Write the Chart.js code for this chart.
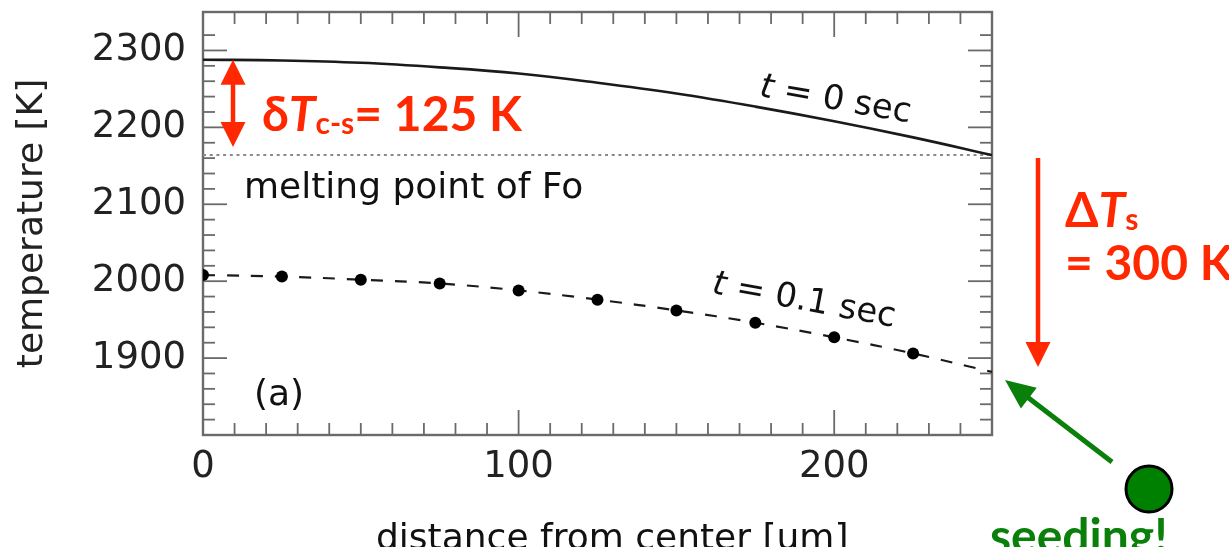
<!DOCTYPE html>
<html>
<head>
<meta charset="utf-8">
<script src="https://cdn.jsdelivr.net/npm/chart.js@4/dist/chart.umd.min.js"></script>
<style>
  html, body { margin: 0; padding: 0; background: #fff; }
  #wrap { width: 1229px; height: 547px; }
</style>
</head>
<body>
<div id="wrap"><canvas id="tempChart" width="1229" height="547"></canvas></div>
<script>
// Data
const distance = [0, 25, 50, 75, 100, 125, 150, 175, 200, 225, 250];          // um
const tempT0 = [2288, 2287, 2284, 2278, 2270, 2258, 2244, 2227, 2208, 2187, 2164];  // K, t = 0 sec
const tempT01 = [2008, 2006, 2002, 1997, 1988, 1976, 1962, 1946, 1927, 1906, 1882]; // K, t = 0.1 sec
const meltEnds = [0, 250];
const meltingPoint = [2164, 2164];  // melting point of Fo
const xTickLabels = [0, 100, 200];
const yTickLabels = [1900, 2000, 2100, 2200, 2300];

const RED = '#ff2800';
const GREEN = '#0a800a';
const FONT = '"DejaVu Sans", sans-serif';
const BOLD = 'Lato, "Open Sans", sans-serif';

const toPoints = (xs, ys) => xs.map((v, i) => ({x: v, y: ys[i]}));

function line(ctx, x1, y1, x2, y2) {
  ctx.beginPath();
  ctx.moveTo(x1, y1);
  ctx.lineTo(x2, y2);
  ctx.stroke();
}

function head(ctx, x, y, ang, len, w) {
  const c = Math.cos(ang), s = Math.sin(ang);
  ctx.beginPath();
  ctx.moveTo(x, y);
  ctx.lineTo(x - len * c + w / 2 * s, y - len * s - w / 2 * c);
  ctx.lineTo(x - len * c - w / 2 * s, y - len * s + w / 2 * c);
  ctx.closePath();
  ctx.fill();
}

function arrow(ctx, x1, y1, x2, y2, color, width, len, w, both) {
  const ang = Math.atan2(y2 - y1, x2 - x1);
  const c = Math.cos(ang), s = Math.sin(ang);
  ctx.save();
  ctx.strokeStyle = color;
  ctx.fillStyle = color;
  ctx.lineWidth = width;
  const k = both ? len * 0.8 : 0;
  line(ctx, x1 + k * c, y1 + k * s, x2 - len * 0.8 * c, y2 - len * 0.8 * s);
  head(ctx, x2, y2, ang, len, w);
  if (both) head(ctx, x1, y1, ang + Math.PI, len, w);
  ctx.restore();
}

// draw a run of text pieces with different fonts
function textRun(ctx, x, y, parts) {
  parts.forEach(p => {
    ctx.font = p.font;
    ctx.fillText(p.text, x, y + (p.dy || 0));
    x += ctx.measureText(p.text).width;
  });
}

function rotatedRun(ctx, parts, x, y, deg) {
  ctx.save();
  ctx.translate(x, y);
  ctx.rotate(deg * Math.PI / 180);
  textRun(ctx, 0, 0, parts);
  ctx.restore();
}

// IDL-style box with inward ticks on all four sides
const frame = {
  id: 'frame',
  beforeDatasetsDraw(chart) {
    const {ctx, chartArea: a, scales: {x, y}} = chart;
    ctx.save();
    ctx.strokeStyle = '#6a6a6a';
    ctx.lineWidth = 1.8;
    x.ticks.forEach(t => {
      if (t.value % 10) return;
      const px = x.getPixelForValue(t.value);
      const len = t.value % 100 === 0 ? 25 : 12;
      line(ctx, px, a.bottom, px, a.bottom - len);
      line(ctx, px, a.top, px, a.top + len);
    });
    y.ticks.forEach(t => {
      if (t.value % 20) return;
      const py = y.getPixelForValue(t.value);
      const len = t.value % 100 === 0 ? 24 : 12;
      line(ctx, a.left, py, a.left + len, py);
      line(ctx, a.right, py, a.right - len, py);
    });
    ctx.lineWidth = 2.4;
    ctx.strokeRect(a.left, a.top, a.right - a.left, a.bottom - a.top);
    ctx.restore();
  }
};

const notes = {
  id: 'notes',
  afterDraw(chart) {
    const {ctx, chartArea: a, scales: {x, y}} = chart;
    ctx.save();

    // black labels inside the plot
    ctx.fillStyle = '#111';
    ctx.textBaseline = 'alphabetic';
    ctx.textAlign = 'left';
    rotatedRun(ctx, [
      {text: 't', font: 'italic 34px ' + FONT},
      {text: ' = 0 sec', font: '34px ' + FONT}
    ], x.getPixelForValue(176), 96, 10);
    rotatedRun(ctx, [
      {text: 't', font: 'italic 34px ' + FONT},
      {text: ' = 0.1 sec', font: '34px ' + FONT}
    ], x.getPixelForValue(161), 293, 10.5);
    ctx.font = '36px ' + FONT;
    ctx.fillText('melting point of Fo', a.left + 41, 198);
    ctx.fillText('(a)', a.left + 51, 405);
    ctx.fillText('distance from center [um]', 376, 549);

    // delta T between centre and surface
    const yTop = y.getPixelForValue(tempT0[0]);
    const yMelt = y.getPixelForValue(meltingPoint[0]);
    arrow(ctx, a.left + 30, yTop, a.left + 30, yMelt - 8, RED, 4.5, 25, 25, true);
    ctx.fillStyle = RED;
    textRun(ctx, a.left + 59, 131, [
      {text: 'δ', font: 'bold 48px ' + BOLD},
      {text: 'T', font: 'italic bold 48px ' + BOLD},
      {text: 'c-s', font: 'bold 30px ' + BOLD, dy: 3},
      {text: '= 125 K', font: 'bold 48px ' + BOLD}
    ]);

    // supercooling arrow on the right
    const yEnd = y.getPixelForValue(tempT01[tempT01.length - 1]);
    arrow(ctx, a.right + 46, yMelt + 3, a.right + 46, yEnd - 5, RED, 4.5, 25, 25, false);
    textRun(ctx, a.right + 73, 227, [
      {text: 'Δ', font: 'bold 48px ' + BOLD},
      {text: 'T', font: 'italic bold 48px ' + BOLD},
      {text: 's', font: 'bold 30px ' + BOLD, dy: 3}
    ]);
    ctx.font = 'bold 48px ' + BOLD;
    ctx.fillText('= 300 K', a.right + 73, 280);

    // seeding
    arrow(ctx, a.right + 120, yEnd + 90, a.right + 13, yEnd + 8, GREEN, 5, 30, 26, false);
    ctx.beginPath();
    ctx.arc(a.right + 157, 489, 23, 0, Math.PI * 2);
    ctx.fillStyle = '#008000';
    ctx.fill();
    ctx.lineWidth = 3;
    ctx.strokeStyle = '#000';
    ctx.stroke();
    ctx.fillStyle = GREEN;
    ctx.font = 'bold 48px ' + BOLD;
    ctx.fillText('seeding!', a.right - 2, 553);

    ctx.restore();
  }
};

new Chart(document.getElementById('tempChart'), {
  type: 'line',
  data: {
    datasets: [
      {
        label: 't = 0 sec',
        data: toPoints(distance, tempT0),
        borderColor: '#1a1a1a',
        borderWidth: 2.6,
        pointRadius: 0,
        tension: 0.4
      },
      {
        label: 't = 0.1 sec',
        data: toPoints(distance, tempT01),
        borderColor: '#1a1a1a',
        backgroundColor: '#000',
        borderWidth: 2.2,
        borderDash: [12, 12],
        tension: 0.4,
        // dots at every point except the line end
        pointRadius: ctx => ctx.dataIndex < tempT01.length - 1 ? 6 : 0,
        pointBorderWidth: 0
      },
      {
        label: 'melting point of Fo',
        data: toPoints(meltEnds, meltingPoint),
        borderColor: '#8a8a8a',
        borderWidth: 2,
        borderDash: [3, 3.7],
        pointRadius: 0
      }
    ]
  },
  options: {
    responsive: false,
    animation: false,
    layout: {padding: {top: 12, right: 237, left: 0, bottom: 0}},
    plugins: {legend: {display: false}, tooltip: {enabled: false}},
    scales: {
      x: {
        type: 'linear',
        min: 0,
        max: 250,
        afterFit: s => { s.height = 112; s.paddingLeft = 0; s.paddingRight = 0; },
        grid: {display: false, drawTicks: false},
        border: {display: false},
        ticks: {
          stepSize: 10,
          autoSkip: false,
          maxRotation: 0,
          padding: 10,
          color: '#222',
          font: {family: FONT, size: 37},
          callback: v => xTickLabels.includes(v) ? String(v) : ''
        }
      },
      y: {
        min: 1800,
        max: 2350,
        afterFit: s => { s.width = 203; s.paddingTop = 0; s.paddingBottom = 0; },
        grid: {display: false, drawTicks: false},
        border: {display: false},
        title: {
          display: true,
          text: 'temperature [K]',
          color: '#222',
          font: {family: FONT, size: 36},
          padding: {top: 11, bottom: 0}
        },
        ticks: {
          stepSize: 20,
          autoSkip: false,
          padding: 17,
          color: '#222',
          font: {family: FONT, size: 37},
          callback: v => yTickLabels.includes(v) ? String(v) : ''
        }
      }
    }
  },
  plugins: [frame, notes]
});
</script>
</body>
</html>
